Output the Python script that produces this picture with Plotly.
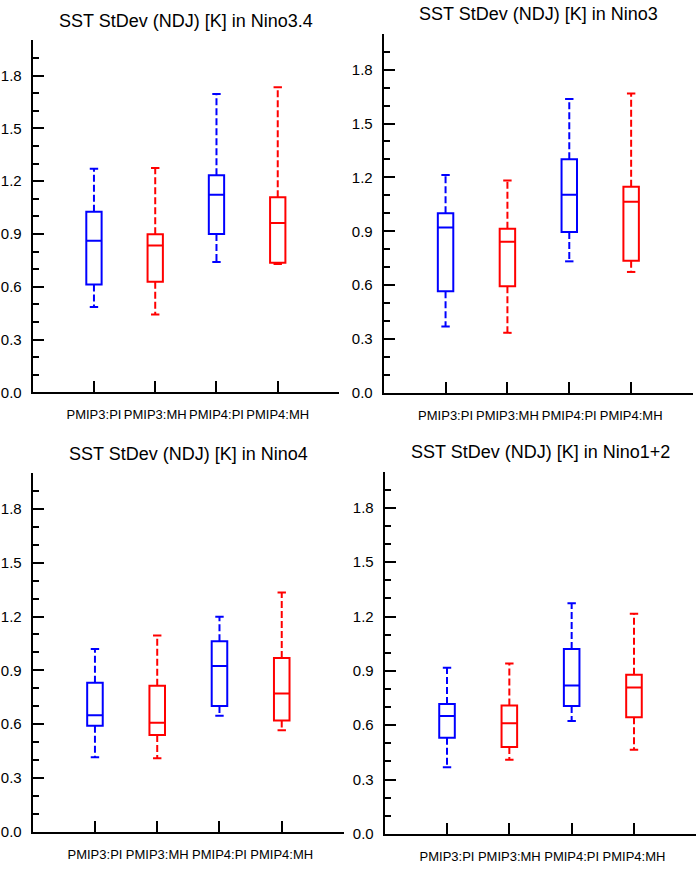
import plotly.graph_objects as go

W, H = 699, 869

categories = ["PMIP3:PI", "PMIP3:MH", "PMIP4:PI", "PMIP4:MH"]
box_colors = ["blue", "red", "blue", "red"]
yticks = [0.0, 0.3, 0.6, 0.9, 1.2, 1.5, 1.8]

# Nino3.4
nino34_min = [0.485, 0.443, 0.740, 0.729]
nino34_q1 = [0.613, 0.629, 0.900, 0.737]
nino34_med = [0.861, 0.834, 1.122, 0.962]
nino34_q3 = [1.026, 0.898, 1.234, 1.109]
nino34_max = [1.270, 1.274, 1.695, 1.734]

# Nino3
nino3_min = [0.370, 0.335, 0.733, 0.674]
nino3_q1 = [0.567, 0.595, 0.897, 0.737]
nino3_med = [0.921, 0.842, 1.104, 1.065]
nino3_q3 = [1.000, 0.914, 1.301, 1.148]
nino3_max = [1.214, 1.183, 1.636, 1.667]

# Nino4
nino4_min = [0.416, 0.411, 0.648, 0.567]
nino4_q1 = [0.591, 0.540, 0.702, 0.621]
nino4_med = [0.650, 0.608, 0.925, 0.772]
nino4_q3 = [0.831, 0.814, 1.063, 0.969]
nino4_max = [1.019, 1.094, 1.199, 1.334]

# Nino1+2
nino12_min = [0.368, 0.409, 0.624, 0.465]
nino12_q1 = [0.531, 0.480, 0.706, 0.644]
nino12_med = [0.651, 0.611, 0.819, 0.808]
nino12_q3 = [0.717, 0.709, 1.021, 0.879]
nino12_max = [0.917, 0.941, 1.273, 1.215]

panels = [
    ("Nino3.4", nino34_min, nino34_q1, nino34_med, nino34_q3, nino34_max, (32.7, 339.0, 40.7, 396.0)),
    ("Nino3", nino3_min, nino3_q1, nino3_med, nino3_q3, nino3_max, (383.7, 693.0, 34.0, 396.7)),
    ("Nino4", nino4_min, nino4_q1, nino4_med, nino4_q3, nino4_max, (32.7, 344.0, 477.3, 839.7)),
    ("Nino1+2", nino12_min, nino12_q1, nino12_med, nino12_q3, nino12_max, (384.7, 696.3, 476.0, 841.7)),
]

font = "Liberation Sans, Arial, Helvetica, sans-serif"
fig = go.Figure()
annotations = []

for i, (name, lo, q1, med, q3, hi, box) in enumerate(panels):
    n = "" if i == 0 else str(i + 1)
    xa, ya = "x" + n, "y" + n
    x0, x1, top, bottom = box
    pos = list(range(1, len(categories) + 1))

    for j in range(len(categories)):
        c = box_colors[j]
        fig.add_trace(go.Box(
            x=[pos[j]], q1=[q1[j]], median=[med[j]], q3=[q3[j]],
            lowerfence=[q1[j]], upperfence=[q3[j]],
            width=0.25, whiskerwidth=0, boxpoints=False,
            line=dict(color=c, width=2), fillcolor="rgba(0,0,0,0)",
            xaxis=xa, yaxis=ya, showlegend=False, hoverinfo="skip"))
        # dashed whiskers
        fig.add_trace(go.Scatter(
            x=[pos[j], pos[j], None, pos[j], pos[j]],
            y=[q3[j], hi[j], None, q1[j], lo[j]],
            mode="lines", line=dict(color=c, width=2, dash="7px,3px"),
            xaxis=xa, yaxis=ya, showlegend=False, hoverinfo="skip"))
        fig.add_trace(go.Scatter(
            x=[pos[j], pos[j]], y=[hi[j], lo[j]], mode="markers",
            marker=dict(symbol="line-ew", size=6, line=dict(color=c, width=2)),
            xaxis=xa, yaxis=ya, showlegend=False, hoverinfo="skip"))

    xdom = [x0 / W, x1 / W]
    ydom = [1 - bottom / H, 1 - top / H]
    fig.layout["xaxis" + n] = dict(
        domain=xdom, anchor=ya, range=[0, 5],
        tickvals=[0] + pos + [5], ticktext=[""] + categories + [""],
        ticks="inside", ticklen=11, tickwidth=2, tickcolor="black",
        showline=True, linewidth=2, linecolor="black", tickangle=0,
        showgrid=False, zeroline=False, ticklabelstandoff=9,
        tickfont=dict(family=font, size=13, color="black"))
    fig.layout["yaxis" + n] = dict(
        domain=ydom, anchor=xa, range=[0, 2.0],
        tickvals=yticks, ticktext=["%.1f" % v for v in yticks],
        ticks="inside", ticklen=11, tickwidth=2, tickcolor="black",
        minor=dict(dtick=0.1, ticks="inside", ticklen=6, tickwidth=2, tickcolor="black"),
        showline=True, linewidth=2, linecolor="black",
        showgrid=False, zeroline=False, ticklabelstandoff=6,
        tickfont=dict(family=font, size=15, color="black"))
    annotations.append(dict(
        text="SST StDev (NDJ) [K] in " + name, xref="paper", yref="paper",
        x=(x0 + x1) / 2 / W, y=1 - (top - 19.5) / H,
        xanchor="center", yanchor="middle", showarrow=False,
        font=dict(family=font, size=18, color="black")))

fig.update_layout(
    width=W, height=H, margin=dict(l=0, r=0, t=0, b=0),
    paper_bgcolor="white", plot_bgcolor="white",
    annotations=annotations, boxmode="overlay")

# page has a default 8px body margin; drop it so the figure fills the window
fig.write_html("out.html", config={"displayModeBar": False},
               post_script="document.body.style.margin='0px';")
